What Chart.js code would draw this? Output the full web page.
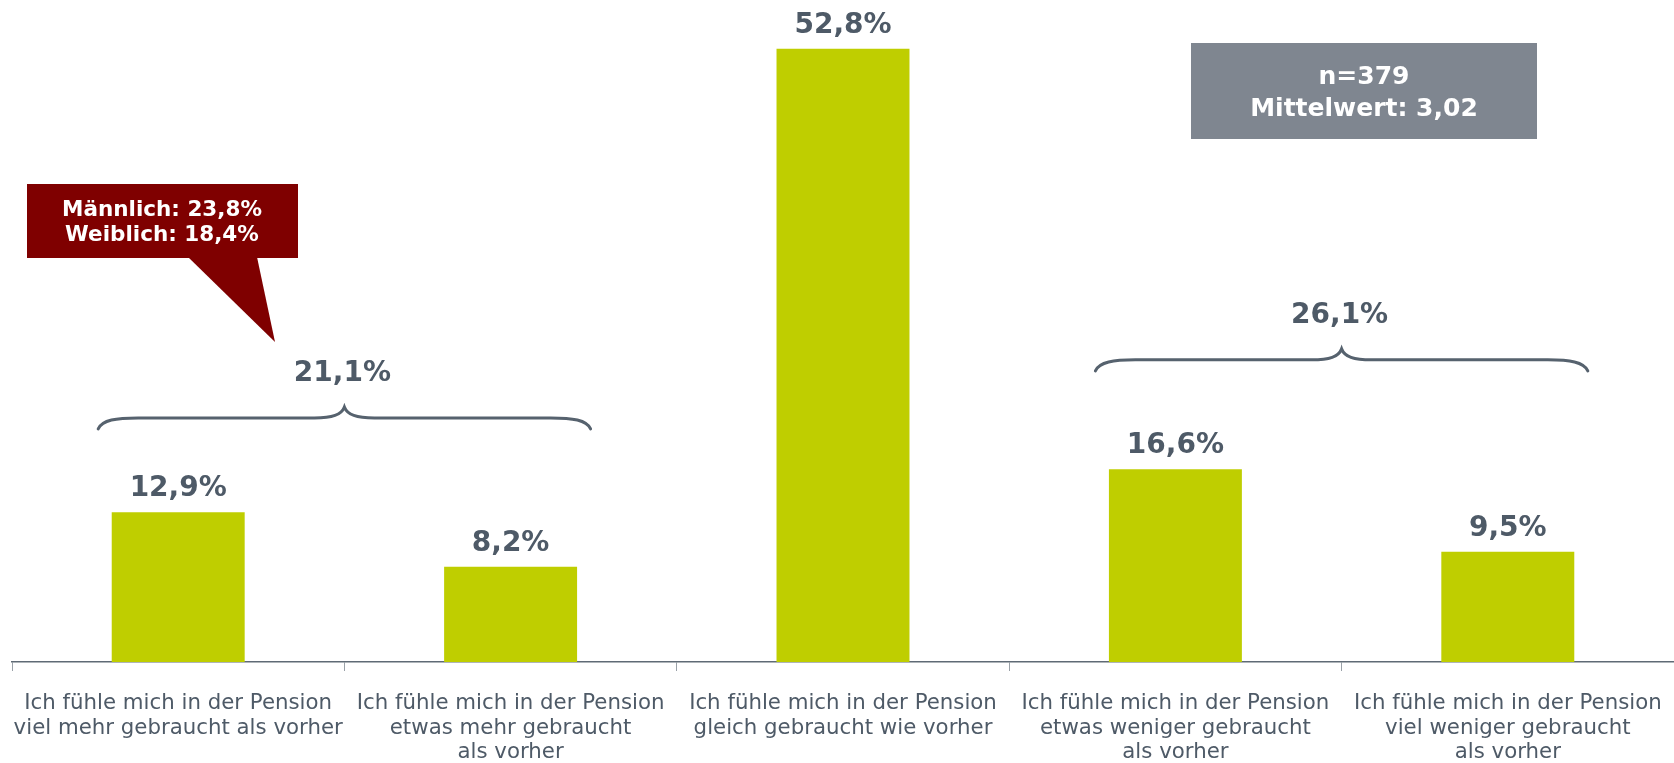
<!DOCTYPE html>
<html>
<head>
<meta charset="utf-8">
<script src="https://cdn.jsdelivr.net/npm/chart.js@4/dist/chart.umd.min.js"></script>
<style>
  html, body { margin: 0; padding: 0; background: #ffffff; }
  #wrap { width: 1674px; height: 763px; position: relative; }
</style>
</head>
<body>
<div id="wrap"><canvas id="chart"></canvas></div>
<script>
// Kategorien (mehrzeilig wie im Original)
const categories = [
    ['Ich fühle mich in der Pension', 'viel mehr gebraucht als vorher'],
    ['Ich fühle mich in der Pension', 'etwas mehr gebraucht', 'als vorher'],
    ['Ich fühle mich in der Pension', 'gleich gebraucht wie vorher'],
    ['Ich fühle mich in der Pension', 'etwas weniger gebraucht', 'als vorher'],
    ['Ich fühle mich in der Pension', 'viel weniger gebraucht', 'als vorher']
];
const shares = [12.9, 8.2, 52.8, 16.6, 9.5];

// zusammengefasste Gruppen (Klammern): erste und letzte Kategorie, Summe
const groupFrom = [0, 3];
const groupTo = [1, 4];
const groupSums = [21.1, 26.1];

const calloutLines = ['Männlich: 23,8%', 'Weiblich: 18,4%'];
const infoLines = ['n=379', 'Mittelwert: 3,02'];

const labelColor = '#4e5a67';
const barColor = '#bfce00';

function fmt(v) {
    return v.toFixed(1).replace('.', ',') + '%';
}

const overlay = {
    id: 'overlay',
    afterDatasetsDraw(chart) {
        const ctx = chart.ctx;
        const xs = chart.scales.x;
        const ys = chart.scales.y;
        const meta = chart.getDatasetMeta(0);

        ctx.save();
        // Werte über den Balken
        ctx.fillStyle = labelColor;
        ctx.font = 'bold 28px "DejaVu Sans"';
        ctx.textAlign = 'center';
        ctx.textBaseline = 'alphabetic';
        meta.data.forEach((bar, i) => {
            ctx.fillText(fmt(shares[i]), bar.x, bar.y - 16);
        });

        // geschweifte Klammern mit Summen
        ctx.strokeStyle = '#56626e';
        ctx.lineWidth = 3;
        ctx.lineCap = 'round';
        groupSums.forEach((sum, g) => {
            const x1 = xs.getPixelForValue(groupFrom[g]) - 80;
            const x2 = xs.getPixelForValue(groupTo[g]) + 80;
            const xm = (xs.getPixelForValue(groupFrom[g]) + xs.getPixelForValue(groupTo[g])) / 2;
            const Y = ys.getPixelForValue(sum) + 1;
            ctx.beginPath();
            ctx.moveTo(x1, Y + 11);
            ctx.bezierCurveTo(x1 + 4, Y + 2, x1 + 18, Y, x1 + 40, Y);
            ctx.lineTo(xm - 30, Y);
            ctx.bezierCurveTo(xm - 12, Y, xm - 3, Y - 3, xm, Y - 11);
            ctx.bezierCurveTo(xm + 3, Y - 3, xm + 12, Y, xm + 30, Y);
            ctx.lineTo(x2 - 40, Y);
            ctx.bezierCurveTo(x2 - 18, Y, x2 - 4, Y + 2, x2, Y + 11);
            ctx.stroke();
            ctx.fillText(fmt(sum), xm - 2, Y - 37);
        });

        // Sprechblase Geschlecht
        ctx.fillStyle = '#7f0000';
        ctx.fillRect(27, 184, 271, 74);
        ctx.beginPath();
        ctx.moveTo(188, 257);
        ctx.lineTo(257, 257);
        ctx.lineTo(275, 342);
        ctx.closePath();
        ctx.fill();
        ctx.fillStyle = '#ffffff';
        ctx.font = 'bold 21.5px "DejaVu Sans"';
        ctx.fillText(calloutLines[0], 162, 216);
        ctx.fillText(calloutLines[1], 162, 241);

        // Infobox
        ctx.fillStyle = '#7f8690';
        ctx.fillRect(1191, 43, 346, 96);
        ctx.fillStyle = '#ffffff';
        ctx.font = 'bold 25px "DejaVu Sans"';
        ctx.fillText(infoLines[0], 1364, 84);
        ctx.fillText(infoLines[1], 1364, 116);
        ctx.restore();
    }
};

new Chart(document.getElementById('chart'), {
    type: 'bar',
    data: {
        labels: categories,
        datasets: [{
            data: shares,
            backgroundColor: barColor,
            borderWidth: 0,
            categoryPercentage: 1,
            barPercentage: 0.4
        }]
    },
    options: {
        responsive: true,
        maintainAspectRatio: false,
        animation: false,
        layout: { padding: { left: 12, right: 0, top: 0, bottom: 0 } },
        plugins: {
            legend: { display: false },
            tooltip: { enabled: false }
        },
        scales: {
            x: {
                afterFit(scale) {
                    scale.height = 101;
                    scale.paddingLeft = 0;
                    scale.paddingRight = 0;
                },
                grid: {
                    offset: true,
                    drawOnChartArea: false,
                    drawTicks: true,
                    tickLength: 9,
                    color: '#9aa1a8',
                    lineWidth: 1
                },
                border: { display: true, color: '#5f6a75', width: 1.5 },
                ticks: {
                    color: labelColor,
                    font: { family: '"DejaVu Sans"', size: 21.3, lineHeight: 1.16 },
                    padding: 20,
                    maxRotation: 0,
                    autoSkip: false
                }
            },
            y: {
                display: false,
                min: 0,
                max: 57
            }
        }
    },
    plugins: [overlay]
});
</script>
</body>
</html>
